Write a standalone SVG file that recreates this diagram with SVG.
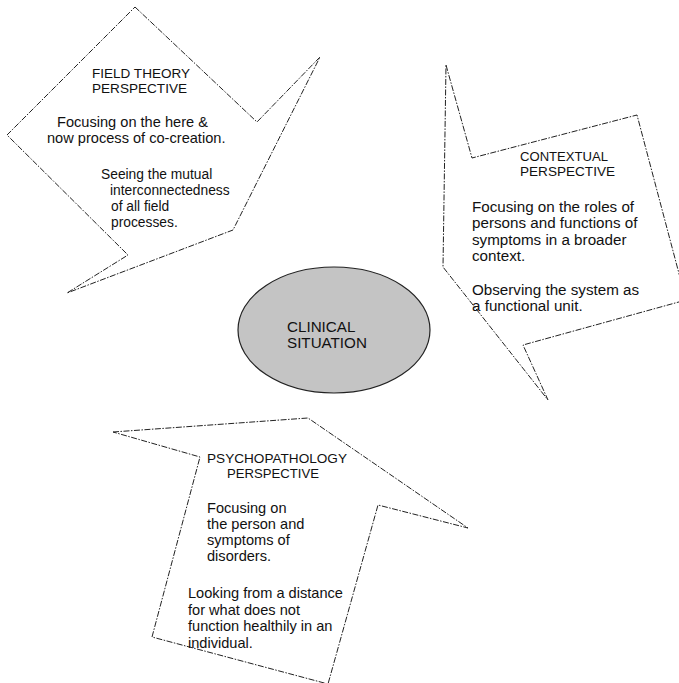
<svg xmlns="http://www.w3.org/2000/svg" width="679" height="683" viewBox="0 0 679 683">
<style>
.arrow{fill:none;stroke:#222;stroke-width:1;stroke-dasharray:6 1.5 1.5 1.5;stroke-linejoin:miter}
.hd{font-family:"Liberation Sans",Arial,sans-serif;font-size:13px;fill:#111}
.bd{font-family:"Liberation Sans",Arial,sans-serif;font-size:14.6px;fill:#111}
.sm{font-family:"Liberation Sans",Arial,sans-serif;font-size:13.8px;fill:#111}
.cx{font-family:"Liberation Sans",Arial,sans-serif;font-size:15.2px;fill:#111}
</style>
<rect width="679" height="683" fill="#fff"/>
<g id="field-theory">
<path class="arrow" d="M135,7 L257,122 L320,57 L233,230 L67,293 L128,255 L7,135 Z"/>
<text class="hd" x="92" y="78" textLength="98" lengthAdjust="spacingAndGlyphs">FIELD THEORY</text>
<text class="hd" x="92" y="93" textLength="95" lengthAdjust="spacingAndGlyphs">PERSPECTIVE</text>
<text class="bd" x="57" y="127">Focusing on the here &amp;</text>
<text class="bd" x="47" y="143">now process of co-creation.</text>
<text class="sm" x="101" y="179">Seeing the mutual</text>
<text class="sm" x="110" y="195">interconnectedness</text>
<text class="sm" x="111" y="211">of all field</text>
<text class="sm" x="111" y="227">processes.</text>
</g>
<g id="contextual">
<path class="arrow" d="M446,65 L472,158 L637,115 L686,300 L523,345 L548,400 L443,267 Z"/>
<text class="hd" x="520" y="161" textLength="88" lengthAdjust="spacingAndGlyphs">CONTEXTUAL</text>
<text class="hd" x="520" y="176" textLength="95" lengthAdjust="spacingAndGlyphs">PERSPECTIVE</text>
<text class="cx" x="472" y="212">Focusing on the roles of</text>
<text class="cx" x="472" y="228">persons and functions of</text>
<text class="cx" x="472" y="245">symptoms in a broader</text>
<text class="cx" x="472" y="261">context.</text>
<text class="cx" x="472" y="295">Observing the system as</text>
<text class="cx" x="472" y="311">a functional unit.</text>
</g>
<g id="clinical">
<ellipse cx="334" cy="330" rx="96" ry="63" fill="#c4c4c4" stroke="#222" stroke-width="1.2"/>
<text class="cx" x="287" y="332">CLINICAL</text>
<text class="cx" x="287" y="348">SITUATION</text>
</g>
<g id="psychopathology">
<path class="arrow" d="M113,432 L308,418 L468,528 L378,505 L328,684 L152,637 L200,457 Z"/>
<text class="hd" x="207" y="463" textLength="140" lengthAdjust="spacingAndGlyphs">PSYCHOPATHOLOGY</text>
<text class="hd" x="227" y="478" textLength="92" lengthAdjust="spacingAndGlyphs">PERSPECTIVE</text>
<text class="bd" x="207" y="513">Focusing on</text>
<text class="bd" x="207" y="529">the person and</text>
<text class="bd" x="207" y="545">symptoms of</text>
<text class="bd" x="207" y="561">disorders.</text>
<text class="bd" x="188" y="598">Looking from a distance</text>
<text class="bd" x="188" y="615">for what does not</text>
<text class="bd" x="188" y="631">function healthily in an</text>
<text class="bd" x="188" y="648">individual.</text>
</g>
<g id="connectors"></g>
</svg>
